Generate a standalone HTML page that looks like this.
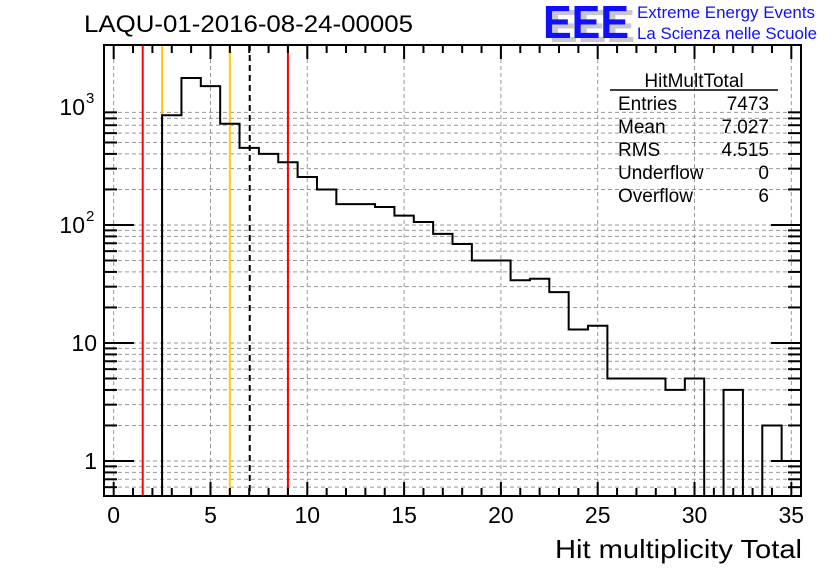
<!DOCTYPE html>
<html><head><meta charset="utf-8"><style>
body{margin:0;background:#fff;width:836px;height:572px;overflow:hidden}
svg{display:block;font-family:"Liberation Sans",sans-serif}
</style></head><body>
<svg id="c" width="836" height="572">
<text x="84" y="32" font-size="24" textLength="329" lengthAdjust="spacingAndGlyphs">LAQU-01-2016-08-24-00005</text>
<g>
<text x="549" y="42" font-size="46" font-weight="bold" fill="#c8c8c8" textLength="86" lengthAdjust="spacingAndGlyphs">EEE</text>
<text x="543" y="38" font-size="46" font-weight="bold" fill="#1010ff" textLength="86" lengthAdjust="spacingAndGlyphs">EEE</text>
<text x="637" y="18" font-size="17" fill="#1010ff" textLength="178" lengthAdjust="spacingAndGlyphs">Extreme Energy Events</text>
<text x="637" y="39" font-size="17" fill="#1010ff" textLength="180" lengthAdjust="spacingAndGlyphs">La Scienza nelle Scuole</text>
</g>
<g id="grid"></g>
<g id="lines"></g>
<path id="hist" fill="none" stroke="#000" stroke-width="2"/>
<g id="axes"></g>
<rect x="104" y="45" width="697" height="451" fill="none" stroke="#000" stroke-width="2"/>
<g font-size="19">
<text x="694" y="87" text-anchor="middle">HitMultTotal</text>
<line x1="610" y1="90" x2="778" y2="90" stroke="#000" stroke-width="1.5"/>
<text x="618" y="110">Entries</text><text x="769" y="110" text-anchor="end">7473</text>
<text x="618" y="133">Mean</text><text x="769" y="133" text-anchor="end">7.027</text>
<text x="618" y="156">RMS</text><text x="769" y="156" text-anchor="end">4.515</text>
<text x="618" y="179">Underflow</text><text x="769" y="179" text-anchor="end">0</text>
<text x="618" y="202">Overflow</text><text x="769" y="202" text-anchor="end">6</text>
</g>
<text x="555" y="558" font-size="26" textLength="247" lengthAdjust="spacingAndGlyphs">Hit multiplicity Total</text>
</svg>
<script>
const binCenters=[0,1,2,3,4,5,6,7,8,9,10,11,12,13,14,15,16,17,18,19,20,21,22,23,24,25,26,27,28,29,30,31,32,33,34,35];
const counts=[0,0,0,850,1760,1500,720,450,400,340,255,200,150,150,142,120,106,84,69,50,50,34,35,27,13,14,5,5,5,4,5,0,4,0,2,1];
const xTicks=[0,5,10,15,20,25,30,35];
const yTickVals=[1,10,100,1000];
const yTickBase=["1","10","10","10"];
const yTickExp=["","","2","3"];
const markerX=[1.5,2.5,6,7.027,9];
const markerColors=["#f00","#fc0","#fc0","#000","#f00"];
const NS="http://www.w3.org/2000/svg";
const L=104,R=801,T=45,B=496,XMIN=-0.5,XMAX=35.5,YMIN=0.505,YMAX=Math.pow(10,3.525);
const sx=v=>L+(v-XMIN)/(XMAX-XMIN)*(R-L);
const sy=v=>B-(Math.log10(v)-Math.log10(YMIN))/(Math.log10(YMAX)-Math.log10(YMIN))*(B-T);
function mk(t,a,p){const e=document.createElementNS(NS,t);for(const k in a)e.setAttribute(k,a[k]);p.appendChild(e);return e;}
const grid=document.getElementById('grid'),axes=document.getElementById('axes'),lines=document.getElementById('lines');
xTicks.forEach(v=>{const l=mk('line',{x1:sx(v),x2:sx(v),y1:T,y2:B,stroke:'#999','stroke-dasharray':'4,3'},grid);
});
for(let d=0;d<4;d++)for(let m=1;m<10;m++){const v=m*Math.pow(10,d-1);if(v<YMIN||v>YMAX)continue;const y=sy(v);
const g=mk('line',{x1:L,x2:R,y1:y,y2:y,stroke:'#999','stroke-dasharray':'4,3'},grid);

const len=m===1?30:13;
mk('line',{x1:L,x2:L+len,y1:y,y2:y,stroke:'#000','stroke-width':2},axes);
mk('line',{x1:R-len,x2:R,y1:y,y2:y,stroke:'#000','stroke-width':2},axes);}
for(let v=0;v<=35;v++){const x=sx(v),len=v%5===0?14:8;
mk('line',{x1:x,x2:x,y1:B,y2:B-len,stroke:'#000','stroke-width':2},axes);
mk('line',{x1:x,x2:x,y1:T,y2:T+len,stroke:'#000','stroke-width':2},axes);}
xTicks.forEach(v=>{const t=mk('text',{x:sx(v),y:523,'font-size':23,'text-anchor':'middle'},axes);t.textContent=v;
});
yTickVals.forEach((v,i)=>{const t=mk('text',{x:yTickExp[i]?85:97,y:sy(v)+8,'font-size':23,'text-anchor':'end'},axes);t.textContent=yTickBase[i];

if(yTickExp[i]){const e=mk('text',{x:86,y:sy(v)-4,'font-size':15},axes);e.textContent=yTickExp[i];
}});
markerX.forEach((v,i)=>{const a={x1:sx(v),x2:sx(v),y1:T,y2:B,stroke:markerColors[i],'stroke-width':2};
if(markerColors[i]==='#000')a['stroke-dasharray']='6,4';const l=mk('line',a,lines);
});
let d='';
binCenters.forEach((c,i)=>{const x0=sx(c-0.5),x1=sx(c+0.5);const y=counts[i]>0?sy(counts[i]):B;
d+=(i===0?'M'+x0+','+y:' L'+x0+','+y)+' L'+x1+','+y;});
document.getElementById('hist').setAttribute('d',d);
</script>
</body></html>
